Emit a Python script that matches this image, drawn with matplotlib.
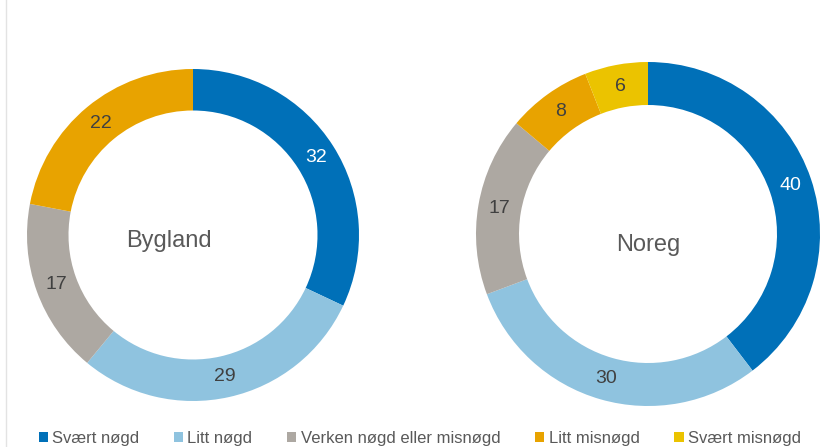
import math
import matplotlib
matplotlib.use("Agg")
import matplotlib.pyplot as plt
from matplotlib.patches import Patch
from matplotlib.lines import Line2D

plt.rcParams['font.family'] = ['Liberation Sans', 'DejaVu Sans']

categories = ["Svært nøgd", "Litt nøgd", "Verken nøgd eller misnøgd", "Litt misnøgd", "Svært misnøgd"]
colors = ["#0070B8", "#8FC3DF", "#ADA8A2", "#E8A300", "#EBC300"]
bygland = [32, 29, 17, 22, 0]
noreg = [40, 30, 17, 8, 6]

W, H = 831, 447
fig = plt.figure(figsize=(W / 100, H / 100), dpi=100)


def donut(box, values, name, name_dx, name_dy):
    ax = fig.add_axes(box)
    vals = [v for v in values if v > 0]
    cols = [c for v, c in zip(values, colors) if v > 0]
    ax.pie(vals, colors=cols, startangle=90, counterclock=False,
           radius=1.0, wedgeprops=dict(width=0.25, linewidth=0))
    ax.set_xlim(-1, 1)
    ax.set_ylim(-1, 1)
    ax.set_aspect('equal')
    # value labels in the middle of the ring
    total = sum(vals)
    angle = 90.0
    for v, c in zip(vals, cols):
        mid = angle - 360.0 * v / total / 2
        angle -= 360.0 * v / total
        r = 0.875
        x = r * math.cos(math.radians(mid))
        y = r * math.sin(math.radians(mid))
        tc = 'white' if c == colors[0] else '#404040'
        ax.text(x, y, str(v), ha='center', va='center', fontsize=14, color=tc)
    ax.text(name_dx, name_dy, name, ha='center', va='baseline', fontsize=17, color='#595959')
    return ax


# left donut: center (193,235), r=166 px ; right donut: center (648,234), r=172 px
donut([27 / W, (H - 401) / H, 332 / W, 332 / H], bygland, "Bygland", -0.145, -0.072)
donut([476 / W, (H - 406) / H, 344 / W, 344 / H], noreg, "Noreg", 0.0, -0.099)

# thin border line at left edge
fig.add_artist(Line2D([6 / W, 6 / W], [0, 1], transform=fig.transFigure,
                      color='#E3E3E3', lw=1))

handles = [Patch(facecolor=c, edgecolor='none') for c in colors]
fig.legend(handles, categories, loc='lower center', bbox_to_anchor=(0.505, 0.0),
           ncol=5, frameon=False, fontsize=12, labelcolor='#595959',
           handlelength=0.55, handleheight=0.55, handletextpad=0.25,
           columnspacing=2.1, borderpad=0.0, borderaxespad=0.05)

fig.savefig("out.png", dpi=100)
